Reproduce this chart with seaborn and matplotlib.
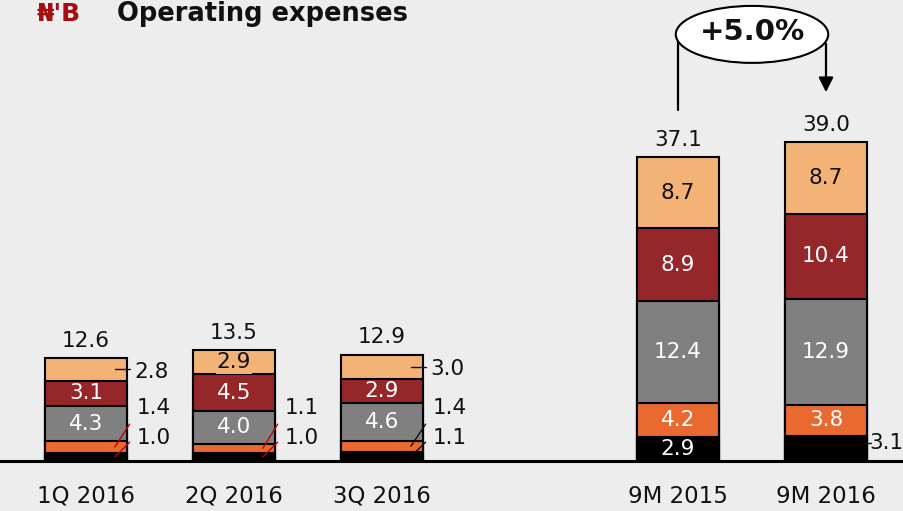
import numpy as np
import pandas as pd
import seaborn as sns
import matplotlib.pyplot as plt
from matplotlib.patches import Ellipse

# --- Data (N'B) ---
categories = ['1Q 2016', '2Q 2016', '3Q 2016', '9M 2015', '9M 2016']
black  = [1.0, 1.0, 1.1, 2.9, 3.1]
orange = [1.4, 1.1, 1.4, 4.2, 3.8]
gray   = [4.3, 4.0, 4.6, 12.4, 12.9]
red    = [3.1, 4.5, 2.9, 8.9, 10.4]
light  = [2.8, 2.9, 3.0, 8.7, 8.7]
totals = [12.6, 13.5, 12.9, 37.1, 39.0]
growth_label = '+5.0%'

seg_vals = [black, orange, gray, red, light]
seg_cols = ['#000000', '#E86A30', '#808080', '#95262A', '#F4B376']
txt_cols = ['white', 'white', 'white', 'white', '#111111']

# which segments get an inside label (bar x segment, bottom -> top)
inside = [
    [False, False, True, True, False],
    [False, False, True, True, True],
    [False, False, True, True, False],
    [True,  True,  True, True, True],
    [False, True,  True, True, True],
]

order = categories[:3] + [''] + categories[3:]
xpos = [order.index(c) for c in categories]

sns.set_theme(style='white')
plt.rcParams['font.family'] = ['DejaVu Sans']

fig = plt.figure(figsize=(9.04, 5.11), dpi=100)
fig.patch.set_facecolor('#EDEDED')
ax = fig.add_axes([0, 50 / 511, 1, 461 / 511])
ax.set_facecolor('none')

vals = np.array(seg_vals)
cum = np.cumsum(vals, axis=0)
bottoms = cum - vals

# stacked bars: draw cumulative heights from the top layer down
for i in reversed(range(len(seg_vals))):
    sns.barplot(x=categories, y=cum[i], order=order, color=seg_cols[i],
                saturation=1, width=0.55, edgecolor='black', linewidth=1.5,
                errorbar=None, ax=ax)

ax.set_xlim(-0.581, 5.527)
ax.set_ylim(0, 56.3)

fs = 15.5
half = 0.275
for j, x in enumerate(xpos):
    for i in range(len(seg_vals)):
        if inside[j][i]:
            ax.text(x, bottoms[i, j] + vals[i, j] / 2, f'{vals[i, j]:.1f}',
                    ha='center', va='center', fontsize=fs, color=txt_cols[i],
                    bbox=dict(facecolor=seg_cols[i], edgecolor='none', pad=1.0),
                    zorder=5)
    ax.annotate(f'{totals[j]:.1f}', (x, cum[-1, j]), xytext=(0, 8),
                textcoords='offset points', ha='center', va='baseline',
                fontsize=fs, color='#111111')

# outside labels for the quarterly bars
lead_cols = ['#C00000', '#C00000', '#111111']
for j in range(3):
    x = xpos[j]
    r = x + half
    # orange (upper) and black (lower) small segments
    ax.text(r + 0.07, 6.5, f'{orange[j]:.1f}', ha='left', va='center',
            fontsize=fs, color='#111111')
    ax.text(r + 0.07, 2.8, f'{black[j]:.1f}', ha='left', va='center',
            fontsize=fs, color='#111111')
    ax.plot([r + 0.02, r - 0.08], [4.5, bottoms[1, j] + orange[j] / 2],
            color=lead_cols[j], lw=1, zorder=6, clip_on=False)
    ax.plot([r + 0.02, r - 0.08], [2.3, black[j] / 2],
            color=lead_cols[j], lw=1, zorder=6, clip_on=False)
    if not inside[j][4]:
        yc = bottoms[4, j] + light[j] / 2
        ax.plot([r - 0.08, r + 0.02], [yc, yc], color='#111111', lw=1, zorder=6)
        ax.text(r + 0.05, yc - 0.3, f'{light[j]:.1f}', ha='left', va='center',
                fontsize=fs, color='#111111')

# 9M 2016 black segment label outside
x = xpos[4]
ax.plot([x + half - 0.02, x + half + 0.03], [2.2, 2.2], color='#111111', lw=1)
ax.text(x + half + 0.02, 2.2, f'{black[4]:.1f}', ha='left', va='center',
        fontsize=fs, color='#111111', clip_on=False)

# growth bubble between 9M bars
xc = (xpos[3] + xpos[4]) / 2
yc = 52.1
ax.plot([xpos[3], xpos[3]], [totals[3] + 5.8, yc], color='black', lw=1.6,
        zorder=3, clip_on=False)
ax.annotate('', xy=(xpos[4], totals[4] + 5.7), xytext=(xpos[4], yc - 0.8),
            arrowprops=dict(arrowstyle='-|>', lw=1.6, color='black',
                            mutation_scale=22), zorder=3)
ax.add_patch(Ellipse((xc, yc), width=1.03, height=6.96, facecolor='white',
                     edgecolor='black', lw=1.5, zorder=4, clip_on=False))
ax.text(xc, yc + 0.3, growth_label, ha='center', va='center', fontsize=21,
        fontweight='bold', color='#111111', zorder=5)

# axes styling
for side in ['top', 'left', 'right']:
    ax.spines[side].set_visible(False)
ax.spines['bottom'].set_linewidth(2.2)
ax.spines['bottom'].set_color('black')
ax.spines['bottom'].set_zorder(4)
ax.set_yticks([])
ax.set_xticks(xpos)
ax.set_xticklabels(categories)
ax.tick_params(axis='x', length=0, pad=17, labelsize=16.5, labelcolor='#111111')
ax.set_xlabel('')
ax.set_ylabel('')

# title
fig.text(37 / 904, 1 - 21 / 511, "\u20a6'B", color='#A50E12', fontsize=18,
         fontweight='bold', va='baseline')
fig.text(117 / 904, 1 - 21 / 511, 'Operating expenses', color='#111111',
         fontsize=18.5, fontweight='bold', va='baseline')

fig.savefig('out.png', dpi=100, facecolor=fig.get_facecolor())
